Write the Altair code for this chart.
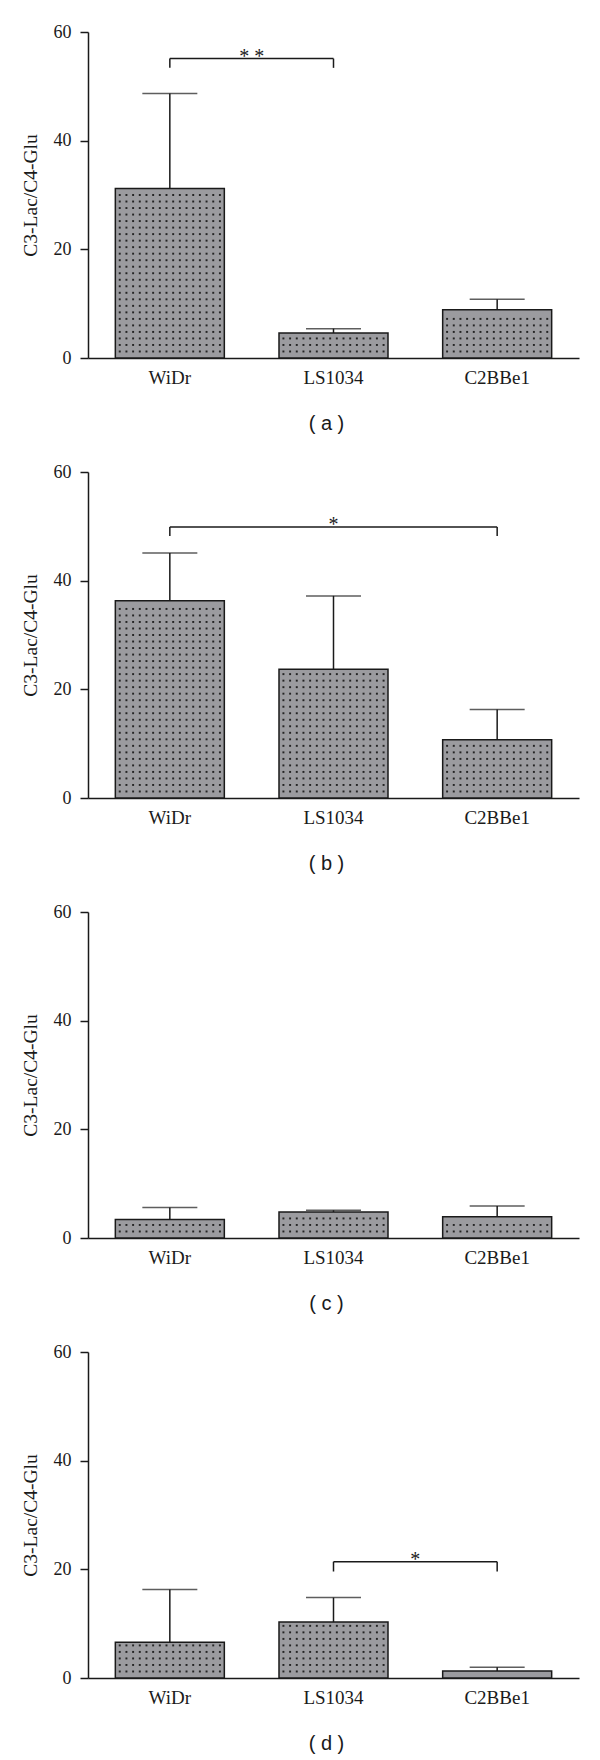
import json
import altair as alt
import pandas as pd

cells = ["WiDr", "LS1034", "C2BBe1"]

means_a = [31.2, 4.6, 8.9]
errs_a = [17.5, 0.8, 1.9]
means_b = [36.3, 23.7, 10.7]
errs_b = [8.8, 13.5, 5.6]
means_c = [3.4, 4.8, 3.9]
errs_c = [2.2, 0.3, 2.0]
means_d = [6.6, 10.3, 1.3]
errs_d = [9.7, 4.5, 0.7]

# significance brackets: (first group, second group, bracket level, leg end, label)
comps_a = [("WiDr", "LS1034", 55.1, 53.4, "* *")]
comps_b = [("WiDr", "C2BBe1", 49.9, 48.2, "*")]
comps_c = []
comps_d = [("LS1034", "C2BBe1", 21.4, 19.6, "*")]

captions = ["( a )", "( b )", "( c )", "( d )"]
y_ticks = [0, 20, 40, 60]
y_title = "C3-Lac/C4-Glu"

SERIF = "Liberation Serif"
SANS = "Liberation Sans"
INK = "#1a1a1a"
FILL = "#9b9b9f"
W, H = 491, 326

cells_js = json.dumps(cells)


def panel(means, errs, comps, caption):
    df = pd.DataFrame({"cell": cells, "mean": means, "err": errs})
    base = alt.Chart(df).transform_calculate(top="datum.mean + datum.err")
    xenc = alt.X(
        "cell:N",
        sort=cells,
        scale=alt.Scale(paddingInner=0.334, paddingOuter=0.167),
        axis=alt.Axis(
            title=caption,
            labelFont=SERIF,
            labelFontSize=19,
            labelColor=INK,
            labelAngle=0,
            labelPadding=10,
            ticks=False,
            domainColor=INK,
            domainWidth=1.5,
            titleFont=SANS,
            titleFontSize=20,
            titleFontWeight="normal",
            titleColor=INK,
            titlePadding=26,
            titleX=238,
            titleAlign="center",
        ),
    )
    yscale = alt.Scale(domain=[0, 60], nice=False, zero=True)
    yenc = alt.Y(
        "mean:Q",
        scale=yscale,
        axis=alt.Axis(
            title=y_title,
            values=y_ticks,
            grid=False,
            labelFont=SERIF,
            labelFontSize=18,
            labelColor=INK,
            labelPadding=9,
            tickSize=8,
            tickColor=INK,
            tickWidth=1.5,
            domainColor=INK,
            domainWidth=1.5,
            titleFont=SERIF,
            titleFontSize=19.5,
            titleFontWeight="normal",
            titleColor=INK,
            titlePadding=13,
        ),
    )
    bars = base.mark_bar(fill=FILL, stroke=INK, strokeWidth=1.5).encode(x=xenc, y=yenc)
    err_line = base.mark_rule(color=INK, strokeWidth=1.5).encode(
        x=alt.X("cell:N", sort=cells), y=alt.Y("mean:Q", scale=yscale), y2="top:Q"
    )
    caps = base.mark_tick(color=INK, size=55, thickness=1.5).encode(
        x=alt.X("cell:N", sort=cells), y=alt.Y("top:Q", scale=yscale)
    )
    main = alt.layer(bars, err_line, caps)

    # dotted fill texture, on a continuous copy of the category axis
    xq = alt.Scale(domain=[0, 3], nice=False, zero=False)
    dots = (
        base.transform_calculate(rows="sequence(1.2, datum.mean - 0.5, 1.2)")
        .transform_flatten(["rows"])
        .transform_calculate(cols="sequence(0, 16)")
        .transform_flatten(["cols"])
        .transform_calculate(
            xd=f"indexof({cells_js}, datum.cell) + 0.5 + (datum.cols - 7.5) * 0.0408"
        )
        .mark_square(size=3.8, color="#1e1e1e", opacity=0.95)
        .encode(
            x=alt.X("xd:Q", scale=xq, axis=None),
            y=alt.Y("rows:Q", scale=yscale),
        )
    )
    extra = [dots]
    if comps:
        cdf = pd.DataFrame(comps, columns=["c1", "c2", "lvl", "leg", "label"])
        cb = alt.Chart(cdf).transform_calculate(
            x1=f"indexof({cells_js}, datum.c1) + 0.5",
            x2=f"indexof({cells_js}, datum.c2) + 0.5",
        ).transform_calculate(xm="(datum.x1 + datum.x2) / 2")
        hline = cb.mark_rule(color=INK, strokeWidth=1.5).encode(
            x=alt.X("x1:Q", scale=xq, axis=None), x2="x2:Q",
            y=alt.Y("lvl:Q", scale=yscale),
        )
        leg1 = cb.mark_rule(color=INK, strokeWidth=1.5).encode(
            x=alt.X("x1:Q", scale=xq, axis=None),
            y=alt.Y("lvl:Q", scale=yscale), y2="leg:Q",
        )
        leg2 = cb.mark_rule(color=INK, strokeWidth=1.5).encode(
            x=alt.X("x2:Q", scale=xq, axis=None),
            y=alt.Y("lvl:Q", scale=yscale), y2="leg:Q",
        )
        star = cb.mark_text(font=SERIF, fontSize=20, color=INK, baseline="alphabetic", dy=4).encode(
            x=alt.X("xm:Q", scale=xq, axis=None),
            y=alt.Y("lvl:Q", scale=yscale),
            text="label:N",
        )
        extra += [hline, leg1, leg2, star]
    overlay = alt.layer(*extra)
    return alt.layer(main, overlay).resolve_scale(x="independent").properties(width=W, height=H)


chart = (
    alt.vconcat(
        panel(means_a, errs_a, comps_a, captions[0]),
        panel(means_b, errs_b, comps_b, captions[1]),
        panel(means_c, errs_c, comps_c, captions[2]),
        panel(means_d, errs_d, comps_d, captions[3]),
        spacing=30,
    )
    .properties(padding={"left": 12, "top": 15, "right": 5, "bottom": 5}, background="white")
    .configure_view(stroke=None)
    .configure_axis(labelFont=SERIF)
)

chart.save("out.html", embed_options={"renderer": "svg", "actions": False})
